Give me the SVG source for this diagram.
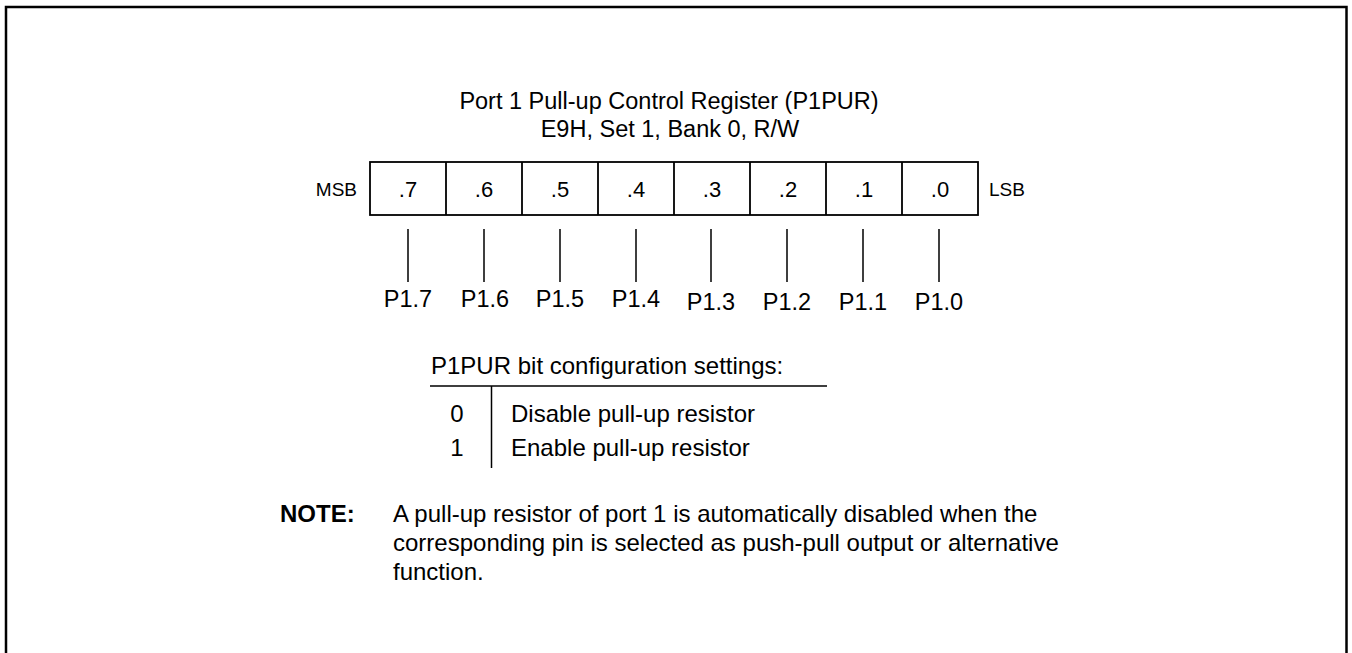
<svg xmlns="http://www.w3.org/2000/svg" width="1352" height="653" viewBox="0 0 1352 653">
<style>
text{font-family:"Liberation Sans",Arial,sans-serif;font-size:23.5px;fill:#000}
.c{text-anchor:middle}
.b{font-weight:bold}
.s{font-size:19px}
.cell{font-size:22px;text-anchor:middle}
.m{font-size:24px}
.ln{stroke:#000;stroke-width:1.5;fill:none}
.bx{stroke:#000;stroke-width:1.8;fill:none}
</style>
<rect width="1352" height="653" fill="#fff"/>
<rect x="6" y="7" width="1340.5" height="700" fill="none" stroke="#000" stroke-width="2.5"/>
<g id="title">
<text class="c" x="669" y="109">Port 1 Pull-up Control Register (P1PUR)</text>
<text class="c" x="670" y="137">E9H, Set 1, Bank 0, R/W</text>
</g>
<g id="register">
<rect class="bx" x="370" y="162" width="608" height="53"/>
<path class="bx" d="M446 162V215M522 162V215M598 162V215M674 162V215M750 162V215M826 162V215M902 162V215"/>
<text class="s" x="357" y="195.5" style="text-anchor:end">MSB</text>
<text class="s" x="989" y="195.5">LSB</text>
<text class="cell" x="408" y="196.5">.7</text>
<text class="cell" x="484" y="196.5">.6</text>
<text class="cell" x="560" y="196.5">.5</text>
<text class="cell" x="636" y="196.5">.4</text>
<text class="cell" x="712" y="196.5">.3</text>
<text class="cell" x="788" y="196.5">.2</text>
<text class="cell" x="864" y="196.5">.1</text>
<text class="cell" x="940" y="196.5">.0</text>
</g>
<g id="connectors">
<path class="ln" d="M408 229V282M484 229V282M560 229V282M636 229V282M711 229V282M787 229V282M863 229V282M939 229V282"/>
</g>
<g id="pins">
<text class="c" x="408" y="307">P1.7</text>
<text class="c" x="485" y="307">P1.6</text>
<text class="c" x="560" y="307">P1.5</text>
<text class="c" x="636" y="307">P1.4</text>
<text class="c" x="711" y="310">P1.3</text>
<text class="c" x="787" y="310">P1.2</text>
<text class="c" x="863" y="310">P1.1</text>
<text class="c" x="939" y="310">P1.0</text>
</g>
<g id="settings">
<text class="m" x="431" y="374">P1PUR bit configuration settings:</text>
<path class="ln" d="M430 386H827M491.5 386V468"/>
<text class="m c" x="457" y="422">0</text>
<text class="m c" x="457" y="456">1</text>
<text class="m" x="511" y="422">Disable pull-up resistor</text>
<text class="m" x="511" y="456">Enable pull-up resistor</text>
</g>
<g id="note">
<text class="m b" x="280" y="522">NOTE:</text>
<text class="m" x="393" y="522">A pull-up resistor of port 1 is automatically disabled when the</text>
<text class="m" x="393" y="551">corresponding pin is selected as push-pull output or alternative</text>
<text class="m" x="393" y="580">function.</text>
</g>
</svg>
